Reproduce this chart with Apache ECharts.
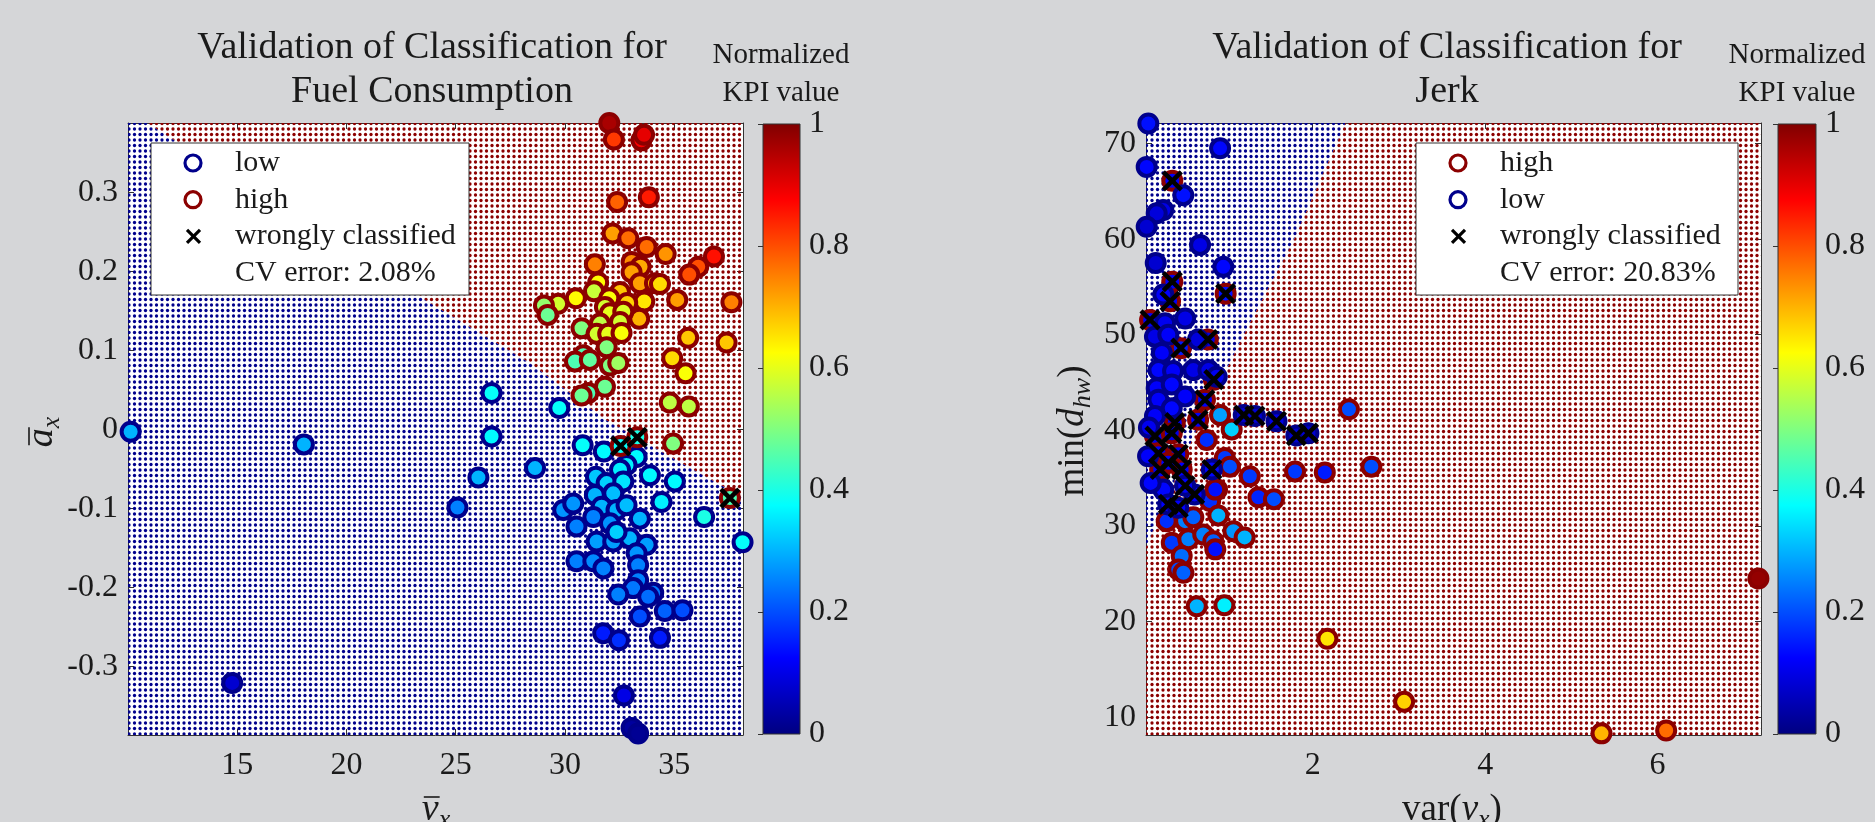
<!DOCTYPE html>
<html>
<head>
<meta charset="utf-8">
<script src="https://cdn.jsdelivr.net/npm/echarts@6/dist/echarts.min.js"></script>
<style>
  html, body { margin: 0; padding: 0; background: #d5d6d8; }
  #chart { width: 1875px; height: 822px; }
</style>
</head>
<body>
<div id="chart"></div>
<script>
// ---- axis extents and ticks ----
var fuelXMin = 10.0, fuelXMax = 38.15, fuelYMin = -0.387, fuelYMax = 0.388;
var jerkXMin = 0.066, jerkXMax = 7.2, jerkYMin = 8.13, jerkYMax = 72.15;
var fuelXTicks = [15, 20, 25, 30, 35];
var fuelYTicks = [-0.3, -0.2, -0.1, 0, 0.1, 0.2, 0.3];
var jerkXTicks = [2, 4, 6];
var jerkYTicks = [10, 20, 30, 40, 50, 60, 70];
var cbarTicks = [0, 0.2, 0.4, 0.6, 0.8, 1];

// ---- decision regions (boundary vertices) ----
var fuelLowRegion = [[10.0, -0.387], [10.0, 0.388], [10.88, 0.388], [23.6, 0.164], [28.4, 0.084], [31.88, 0.012], [35.67, -0.048], [38.15, -0.086], [38.15, -0.387]];
var fuelHighRegion = [[10.88, 0.388], [38.15, 0.388], [38.15, -0.086], [35.67, -0.048], [31.88, 0.012], [28.4, 0.084], [23.6, 0.164]];
var jerkLowRegion = [[0.066, 72.15], [2.38, 72.15], [1.79, 60.1], [1.2, 50.0], [0.64, 39.8], [0.066, 27.8]];
var jerkHighRegion = [[2.38, 72.15], [7.2, 72.15], [7.2, 8.13], [0.066, 8.13], [0.066, 27.8], [0.64, 39.8], [1.2, 50.0], [1.79, 60.1]];

// ---- fuel consumption points ----
var fuelHighV = [32.03,32.24,33.50,33.62,32.39,33.84,32.18,32.90,33.74,34.61,36.82,36.10,35.69,31.37,33.05,33.46,33.05,33.43,34.12,34.35,31.52,31.33,32.52,30.50,29.69,29.04,29.21,35.14,37.62,33.63,32.85,32.03,33.40,31.83,32.06,32.67,32.52,31.60,30.76,31.45,31.98,32.59,31.91,30.84,30.46,31.14,32.06,32.44,31.83,31.07,30.76,35.64,37.40,34.91,35.52,34.80,35.67,34.95,32.55,33.31,37.55];
var fuelHighA = [0.388,0.367,0.366,0.373,0.288,0.294,0.248,0.242,0.231,0.222,0.219,0.206,0.196,0.209,0.212,0.206,0.199,0.185,0.185,0.184,0.186,0.175,0.174,0.166,0.159,0.157,0.145,0.164,0.161,0.162,0.160,0.166,0.140,0.155,0.147,0.149,0.136,0.134,0.128,0.121,0.121,0.122,0.104,0.094,0.086,0.088,0.081,0.084,0.054,0.046,0.043,0.116,0.110,0.090,0.071,0.034,0.029,-0.018,-0.021,-0.010,-0.087];
var fuelHighKpi = [0.96,0.82,0.88,0.90,0.78,0.85,0.72,0.77,0.77,0.73,0.86,0.80,0.80,0.75,0.74,0.71,0.72,0.72,0.70,0.66,0.63,0.57,0.68,0.63,0.58,0.52,0.48,0.72,0.75,0.65,0.67,0.62,0.70,0.58,0.60,0.59,0.58,0.56,0.50,0.58,0.60,0.62,0.50,0.45,0.45,0.47,0.50,0.53,0.48,0.45,0.48,0.68,0.68,0.66,0.62,0.56,0.56,0.50,0.38,0.40,0.45];
var fuelHighWrong = [58, 59, 60];

var fuelLowV = [29.74,30.81,31.78,33.28,32.82,32.52,33.89,35.03,28.63,31.42,31.91,32.67,34.42,36.37,31.37,32.21,31.68,32.36,32.82,29.92,30.38,33.43,31.30,32.06,30.53,31.45,32.21,32.97,33.74,33.28,32.36,30.53,31.30,31.76,33.35,33.35,33.12,34.04,33.81,32.44,33.43,34.57,35.38,31.75,32.47,34.35,32.70,33.05,33.35,38.13,10.12,18.05,14.77,26.64,26.64,26.04,25.08];
var fuelLowA = [0.027,-0.020,-0.028,-0.035,-0.045,-0.051,-0.058,-0.066,-0.049,-0.060,-0.068,-0.066,-0.092,-0.111,-0.083,-0.081,-0.098,-0.102,-0.096,-0.102,-0.094,-0.113,-0.111,-0.119,-0.123,-0.142,-0.142,-0.138,-0.146,-0.157,-0.130,-0.167,-0.167,-0.176,-0.172,-0.191,-0.201,-0.207,-0.212,-0.209,-0.237,-0.230,-0.229,-0.258,-0.267,-0.264,-0.337,-0.378,-0.385,-0.143,-0.003,-0.019,-0.321,0.046,-0.009,-0.061,-0.099];
var fuelLowKpi = [0.38,0.38,0.37,0.37,0.36,0.36,0.37,0.37,0.30,0.32,0.33,0.35,0.36,0.40,0.30,0.31,0.30,0.30,0.31,0.27,0.27,0.30,0.25,0.27,0.25,0.28,0.28,0.30,0.28,0.27,0.33,0.25,0.26,0.25,0.25,0.25,0.24,0.24,0.23,0.25,0.20,0.22,0.20,0.15,0.17,0.15,0.10,0.03,0.02,0.38,0.30,0.30,0.08,0.38,0.37,0.30,0.25];
var fuelLowWrong = [];

// ---- jerk points ----
var jerkHighX = [2.42,0.925,1.06,0.77,1.795,2.14,2.68,0.98,1.04,1.27,1.37,1.55,0.89,0.81,0.905,0.306,0.52,0.615,0.365,0.557,0.73,0.847,0.87,1.08,1.21,0.48,0.44,0.50,0.655,0.975,2.17,3.06,5.35,6.10,7.17,0.87,
  0.371,0.371,0.345,0.99,0.113,0.783,0.47,0.853,0.75,0.67,0.40,0.17,0.365,0.21,0.44,0.23,0.48,0.325];
var jerkHighY = [42.2,41.6,40.1,39.0,35.7,35.6,36.2,37.1,36.2,35.2,33.0,32.8,33.8,32.6,31.1,30.5,30.5,30.9,28.25,28.6,29.1,28.4,27.55,29.45,28.8,26.85,25.45,25.1,21.6,21.7,18.2,11.6,8.3,8.6,24.5,33.8,
  66.1,55.55,53.5,54.3,51.55,49.5,48.6,45.3,43.2,41.1,40.8,39.4,39.7,37.6,37.5,35.9,35.9,36.6];
var jerkHighKpi = [0.20,0.28,0.33,0.17,0.18,0.15,0.20,0.18,0.20,0.18,0.16,0.20,0.20,0.17,0.30,0.17,0.25,0.22,0.18,0.25,0.25,0.22,0.14,0.27,0.30,0.23,0.20,0.22,0.30,0.36,0.65,0.67,0.70,0.77,0.98,0.14,
  0.12,0.12,0.12,0.14,0.12,0.10,0.15,0.10,0.12,0.12,0.12,0.10,0.10,0.12,0.12,0.12,0.12,0.12];
var jerkHighWrong = [36,37,38,39,40,41,42,43,44,45,46,47,48,49,50,51,52,53];

var jerkLowX = [0.093,0.925,0.074,0.499,0.267,0.19,0.074,0.693,0.179,0.963,0.267,0.52,0.287,0.17,0.325,0.67,0.25,0.21,0.38,0.615,0.79,0.886,0.19,0.365,0.52,0.21,0.365,0.17,0.09,0.267,0.10,0.12,
  0.83,0.325,0.44,0.63,0.52,1.20,1.33,1.58,1.81,1.95];
var jerkLowY = [72.1,69.5,67.56,64.6,63.04,62.7,61.3,59.4,57.5,57.1,54.2,51.7,51.2,49.8,50.0,49.5,48.1,46.3,46.2,46.3,46.3,45.6,44.4,44.8,43.55,43.2,42.3,41.5,37.3,33.8,40.3,34.5,
  35.9,32.25,31.9,33.3,34.2,41.6,41.5,40.95,39.45,39.7];
var jerkLowKpi = [0.14,0.13,0.13,0.14,0.10,0.09,0.08,0.10,0.08,0.13,0.12,0.10,0.11,0.10,0.12,0.09,0.12,0.13,0.12,0.10,0.10,0.11,0.12,0.13,0.12,0.12,0.13,0.12,0.12,0.13,0.11,0.13,
  0.13,0.12,0.12,0.12,0.12,0.08,0.08,0.10,0.08,0.08];
var jerkLowWrong = [32,33,34,35,36,37,38,39,40,41];

// ---- texts ----
var fuelLegend = ['low', 'high', 'wrongly classified', 'CV error: 2.08%'];
var jerkLegend = ['high', 'low', 'wrongly classified', 'CV error: 20.83%'];

// ---- styles ----
var FONT = '"Liberation Serif", "Times New Roman", serif';
var TXT = '#1a1a1a';
var LOW_C = '#00008b';
var HIGH_C = '#8b0000';
var JET = ['#000080', '#0000ff', '#0080ff', '#00ffff', '#80ff80', '#ffff00', '#ff8000', '#ff0000', '#800000'];
var TOP_Z = 100;

function dotTile(color) {
  var c = document.createElement('canvas');
  c.width = 11; c.height = 11;
  var g = c.getContext('2d');
  g.fillStyle = color;
  [[2.5, 2.5], [8, 2.5], [2.5, 8], [8, 8]].forEach(function (p) {
    g.beginPath(); g.arc(p[0], p[1], 1.65, 0, Math.PI * 2); g.fill();
  });
  return { image: c, repeat: 'repeat' };
}
var lowDots = dotTile('#00008c');
var highDots = dotTile('#8c0000');

function pts(xs, ys, ks) {
  return xs.map(function (x, i) { return [x, ys[i], ks[i]]; });
}
function wrongPts(xs, ys, idx) {
  return idx.map(function (i) { return [xs[i], ys[i]]; });
}

var measureCtx = document.createElement('canvas').getContext('2d');
function textW(t, font) { measureCtx.font = font; return measureCtx.measureText(t).width; }

// math-style label: parts = [text, italic, size, dy, overline]
function mathLabel(parts, cx, cy, rot) {
  var total = 0;
  var fonts = parts.map(function (p) { return (p[1] ? 'italic ' : '') + p[2] + 'px ' + FONT; });
  var widths = parts.map(function (p, i) { return textW(p[0], fonts[i]); });
  widths.forEach(function (w) { total += w; });
  var x = -total / 2;
  var children = [];
  parts.forEach(function (p, i) {
    children.push({ type: 'text', z: TOP_Z, style: { text: p[0], x: x, y: p[3], font: fonts[i], fill: TXT, textVerticalAlign: 'middle' } });
    if (p[4]) {
      children.push({ type: 'line', z: TOP_Z, shape: { x1: x + 2, y1: -13, x2: x + widths[i] + 1, y2: -13 }, style: { stroke: TXT, lineWidth: 1.6 } });
    }
    x += widths[i];
  });
  return { type: 'group', x: cx, y: cy, rotation: rot, children: children };
}

function legendBox(x0, y0, w, labels, colors) {
  var children = [{ type: 'rect', z: TOP_Z, shape: { x: 0, y: 0, width: w, height: 152 }, style: { fill: '#ffffff', stroke: '#333', lineWidth: 1 } }];
  labels.forEach(function (lab, i) {
    var y = 20 + i * 36.7;
    if (i < 2) {
      children.push({ type: 'circle', z: TOP_Z + 1, shape: { cx: 42, cy: y, r: 8 }, style: { fill: 'none', stroke: colors[i], lineWidth: 3.2 } });
    } else if (i === 2) {
      children.push({ type: 'line', z: TOP_Z + 1, shape: { x1: 36, y1: y - 6.5, x2: 49, y2: y + 6.5 }, style: { stroke: '#000', lineWidth: 3.2 } });
      children.push({ type: 'line', z: TOP_Z + 1, shape: { x1: 36, y1: y + 6.5, x2: 49, y2: y - 6.5 }, style: { stroke: '#000', lineWidth: 3.2 } });
    }
    children.push({ type: 'text', z: TOP_Z + 1, style: { text: lab, x: 84, y: y, font: '30px ' + FONT, fill: TXT, textVerticalAlign: 'middle' } });
  });
  return { type: 'group', x: x0, y: y0, children: children };
}

function titleText(t, x, y, size) {
  return { type: 'text', z: TOP_Z, style: { text: t, x: x, y: y, font: size + 'px ' + FONT, fill: TXT, textAlign: 'center', textVerticalAlign: 'middle' } };
}

function regionRender(regions, patterns) {
  return function (params, api) {
    var poly = regions[params.dataIndex].map(function (p) { return api.coord(p); });
    return { type: 'polygon', shape: { points: poly }, style: { fill: patterns[params.dataIndex] } };
  };
}

function cbarRender(params) {
  var cs = params.coordSys;
  var stops = JET.map(function (c, i) { return { offset: i / (JET.length - 1), color: c }; });
  return {
    type: 'rect',
    shape: { x: cs.x, y: cs.y, width: cs.width, height: cs.height },
    style: { fill: new echarts.graphic.LinearGradient(0, 1, 0, 0, stops), stroke: '#333', lineWidth: 1 }
  };
}

function fmt(v) { return String(v); }

function mainX(grid, min, max, ticks, pos, labels) {
  return {
    type: 'value', gridIndex: grid, min: min, max: max, position: pos,
    axisLine: { show: true, onZero: false, lineStyle: { color: '#333', width: 1 } },
    axisTick: { show: true, inside: true, length: 6, customValues: ticks, lineStyle: { color: '#333' } },
    axisLabel: { show: labels, customValues: ticks, formatter: fmt, margin: 15, color: TXT, fontSize: 32, fontFamily: FONT },
    splitLine: { show: false }
  };
}
function mainY(grid, min, max, ticks, pos, labels) {
  return {
    type: 'value', gridIndex: grid, min: min, max: max, position: pos,
    axisLine: { show: true, onZero: false, lineStyle: { color: '#333', width: 1 } },
    axisTick: { show: true, inside: true, length: 6, customValues: ticks, lineStyle: { color: '#333' } },
    axisLabel: { show: labels, customValues: ticks, formatter: fmt, margin: 10, color: TXT, fontSize: 32, fontFamily: FONT },
    splitLine: { show: false }
  };
}
function cbarX(grid) {
  return { type: 'value', gridIndex: grid, min: 0, max: 1, show: false };
}
function cbarY(grid) {
  return {
    type: 'value', gridIndex: grid, min: 0, max: 1, position: 'right',
    axisLine: { show: false },
    axisTick: { show: true, inside: true, length: 5, customValues: cbarTicks, lineStyle: { color: '#333' } },
    axisLabel: { customValues: cbarTicks, formatter: fmt, margin: 9, color: TXT, fontSize: 32, fontFamily: FONT },
    splitLine: { show: false }
  };
}

function scatterSeries(name, xi, data, edge) {
  return {
    type: 'scatter', name: name, xAxisIndex: xi, yAxisIndex: xi, data: data,
    symbol: 'circle', symbolSize: 18, clip: false, silent: true, z: 3,
    itemStyle: { borderColor: edge, borderWidth: 4, opacity: 1 }
  };
}
function wrongSeries(xi, data) {
  return {
    type: 'scatter', name: 'wrongly classified', xAxisIndex: xi, yAxisIndex: xi, data: data,
    symbol: 'path://M0,0L10,10M10,0L0,10', symbolSize: 18, clip: false, silent: true, z: 5,
    itemStyle: { color: 'transparent', borderColor: '#000', borderWidth: 4.5, opacity: 1 }
  };
}

var chart = echarts.init(document.getElementById('chart'), null, { renderer: 'canvas' });
var option = {
  backgroundColor: '#d5d6d8',
  animation: false,
  grid: [
    { left: 128, top: 123, width: 615, height: 612, show: true, backgroundColor: '#fff', borderWidth: 0 },
    { left: 763, top: 124, width: 37, height: 610 },
    { left: 1146, top: 123, width: 615, height: 612, show: true, backgroundColor: '#fff', borderWidth: 0 },
    { left: 1778, top: 124, width: 38, height: 610 }
  ],
  xAxis: [
    mainX(0, fuelXMin, fuelXMax, fuelXTicks, 'bottom', true),
    mainX(0, fuelXMin, fuelXMax, fuelXTicks, 'top', false),
    cbarX(1),
    mainX(2, jerkXMin, jerkXMax, jerkXTicks, 'bottom', true),
    mainX(2, jerkXMin, jerkXMax, jerkXTicks, 'top', false),
    cbarX(3)
  ],
  yAxis: [
    mainY(0, fuelYMin, fuelYMax, fuelYTicks, 'left', true),
    mainY(0, fuelYMin, fuelYMax, fuelYTicks, 'right', false),
    cbarY(1),
    mainY(2, jerkYMin, jerkYMax, jerkYTicks, 'left', true),
    mainY(2, jerkYMin, jerkYMax, jerkYTicks, 'right', false),
    cbarY(3)
  ],
  visualMap: [{
    type: 'continuous', show: false, min: 0, max: 1, dimension: 2,
    seriesIndex: [1, 2, 6, 7], inRange: { color: JET }
  }],
  series: [
    { type: 'custom', xAxisIndex: 0, yAxisIndex: 0, silent: true, z: 1, data: [[fuelXMin, fuelYMin], [fuelXMin, fuelYMin]],
      renderItem: regionRender([fuelLowRegion, fuelHighRegion], [lowDots, highDots]) },
    scatterSeries('low', 0, pts(fuelLowV, fuelLowA, fuelLowKpi), LOW_C),
    scatterSeries('high', 0, pts(fuelHighV, fuelHighA, fuelHighKpi), HIGH_C),
    wrongSeries(0, wrongPts(fuelHighV, fuelHighA, fuelHighWrong).concat(wrongPts(fuelLowV, fuelLowA, fuelLowWrong))),
    { type: 'custom', xAxisIndex: 2, yAxisIndex: 2, silent: true, data: [[0.5, 0.5]], renderItem: cbarRender },

    { type: 'custom', xAxisIndex: 3, yAxisIndex: 3, silent: true, z: 1, data: [[jerkXMin, jerkYMin], [jerkXMin, jerkYMin]],
      renderItem: regionRender([jerkLowRegion, jerkHighRegion], [lowDots, highDots]) },
    scatterSeries('high', 3, pts(jerkHighX, jerkHighY, jerkHighKpi), HIGH_C),
    scatterSeries('low', 3, pts(jerkLowX, jerkLowY, jerkLowKpi), LOW_C),
    wrongSeries(3, wrongPts(jerkHighX, jerkHighY, jerkHighWrong).concat(wrongPts(jerkLowX, jerkLowY, jerkLowWrong))),
    { type: 'custom', xAxisIndex: 5, yAxisIndex: 5, silent: true, data: [[0.5, 0.5]], renderItem: cbarRender }
  ],
  graphic: {
    elements: [
      titleText('Validation of Classification for', 432, 48, 38),
      titleText('Fuel Consumption', 432, 92, 38),
      titleText('Validation of Classification for', 1447, 48, 38),
      titleText('Jerk', 1447, 92, 38),
      titleText('Normalized', 781, 55, 29),
      titleText('KPI value', 781, 93, 29),
      titleText('Normalized', 1797, 55, 29),
      titleText('KPI value', 1797, 93, 29),
      legendBox(151, 143, 318, fuelLegend, [LOW_C, HIGH_C]),
      legendBox(1416, 143, 322, jerkLegend, [HIGH_C, LOW_C]),
      mathLabel([['v', true, 38, 0, true], ['x', true, 26, 10, false]], 436, 810, 0),
      mathLabel([['a', true, 38, 0, true], ['x', true, 26, 10, false]], 42, 432, Math.PI / 2),
      mathLabel([['var(', false, 37, 0, false], ['v', true, 37, 0, false], ['x', true, 26, 10, false], [')', false, 37, 0, false]], 1452, 810, 0),
      mathLabel([['min(', false, 37, 0, false], ['d', true, 37, 0, false], ['hw', true, 26, 10, false], [')', false, 37, 0, false]], 1073, 431, Math.PI / 2)
    ]
  }
};
chart.setOption(option);
</script>
</body>
</html>
